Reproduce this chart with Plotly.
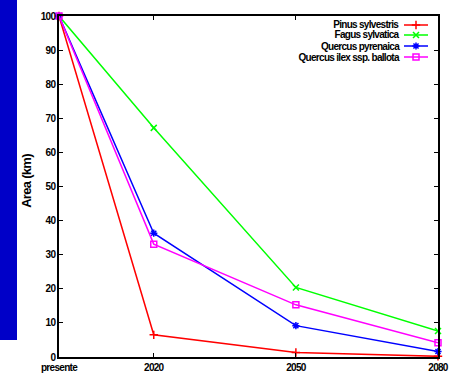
import plotly.graph_objects as go

years = [2000, 2020, 2050, 2080]
tick_labels = ["presente", "2020", "2050", "2080"]
pinus = [100, 6.5, 1.3, 0.2]
fagus = [100, 67.2, 20.4, 7.6]
q_pyr = [100, 36.3, 9.2, 1.6]
q_ilex = [100, 33.1, 15.3, 4.2]

series = [
    ("Pinus sylvestris", pinus, "#ff0000", "cross-thin-open"),
    ("Fagus sylvatica", fagus, "#00ff00", "x-thin-open"),
    ("Quercus pyrenaica", q_pyr, "#0000ff", "asterisk-open"),
    ("Quercus ilex ssp. ballota", q_ilex, "#ff00ff", "square-open"),
]

FONT = "Liberation Sans, Arial, sans-serif"
fig = go.Figure()
for name, vals, color, sym in series:
    fig.add_trace(go.Scatter(
        x=years, y=vals, mode="lines+markers", name=name,
        line=dict(color=color, width=1.5),
        marker=dict(symbol=sym, size=6, color=color, line=dict(color=color, width=1.5)),
        cliponaxis=False, showlegend=False,
    ))

L, R, T, B = 59, 14, 16, 25
W, H = 452 - L - R, 382 - T - B
def px(x): return (x - L) / W
def py(y): return (382 - B - y) / H

rows = [25, 35, 46, 57]
for (name, vals, color, sym), ry in zip(series, rows):
    fig.add_annotation(x=px(401), y=py(ry), xref="paper", yref="paper",
                       text="<b>%s</b>" % name, showarrow=False, xanchor="right", align="right",
                       yanchor="middle", font=dict(family=FONT, size=10, color="black"))
    fig.add_shape(type="line", xref="paper", yref="paper", x0=px(404), x1=px(428),
                  y0=py(ry), y1=py(ry), line=dict(color=color, width=1.5))
    fig.add_trace(go.Scatter(x=[px(416)], y=[py(ry)], xaxis="x2", yaxis="y2", mode="markers",
                             marker=dict(symbol=sym, size=6, color=color, line=dict(color=color, width=1.5)),
                             showlegend=False, hoverinfo="skip", cliponaxis=False))

fig.add_shape(type="rect", xref="paper", yref="paper", x0=px(0), x1=px(17),
              y0=py(340), y1=py(0), fillcolor="#0000c8", line=dict(width=0), layer="below")

fig.add_annotation(x=px(26), y=py(181), xref="paper", yref="paper", text="<b>Area (km)</b>",
                   textangle=-90, showarrow=False, xanchor="center", yanchor="middle",
                   font=dict(family=FONT, size=13, color="black"))

fig.update_layout(
    width=452, height=382,
    margin=dict(l=L, r=R, t=T, b=B, autoexpand=False),
    paper_bgcolor="white", plot_bgcolor="white",
    font=dict(family=FONT, size=10, color="black"),
    xaxis=dict(range=[2000, 2080], tickvals=years, ticktext=["<b>%s</b>" % t for t in tick_labels],
               ticks="inside", ticklen=4, tickcolor="black", showline=True, linecolor="black",
               linewidth=1.5, mirror="ticks", showgrid=False, zeroline=False, automargin=False),
    yaxis=dict(range=[0, 100], tickvals=list(range(0, 101, 10)),
               ticktext=["<b>%d</b>" % v for v in range(0, 101, 10)],
               ticks="inside", ticklen=4, tickcolor="black", showline=True, linecolor="black",
               linewidth=1.5, mirror="ticks", showgrid=False, zeroline=False, automargin=False),
    xaxis2=dict(overlaying="x", range=[0, 1], visible=False),
    yaxis2=dict(overlaying="y", range=[0, 1], visible=False),
)

post = (
    "document.body.style.margin='0';document.body.style.overflow='hidden';"
    "var s=document.createElement('style');"
    "s.innerHTML='.main-svg text{letter-spacing:-0.7px;}';"
    "document.head.appendChild(s);"
)
fig.write_html("out.html", config={"displayModeBar": False}, post_script=post)
